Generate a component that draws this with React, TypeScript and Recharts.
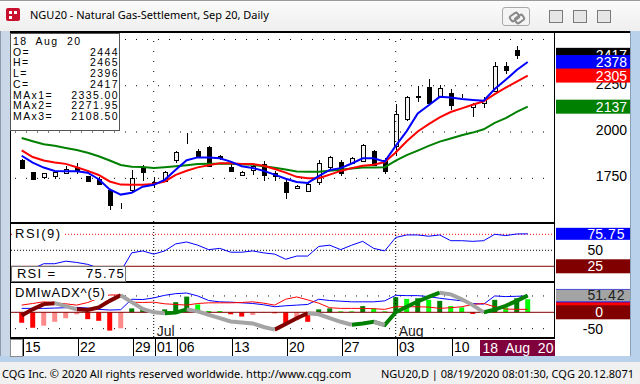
import React from "react";
import { ComposedChart, Line, Bar, XAxis, YAxis, ReferenceLine, Cell } from "recharts";

// trading days shown (last slot is the projected day the studies run into)
const days = [
  "06-15", "06-16", "06-17", "06-18", "06-19",
  "06-22", "06-23", "06-24", "06-25", "06-26",
  "06-29", "06-30", "07-01", "07-02",
  "07-06", "07-07", "07-08", "07-09", "07-10",
  "07-13", "07-14", "07-15", "07-16", "07-17",
  "07-20", "07-21", "07-22", "07-23", "07-24",
  "07-27", "07-28", "07-29", "07-30", "07-31",
  "08-03", "08-04", "08-05", "08-06", "08-07",
  "08-10", "08-11", "08-12", "08-13", "08-14",
  "08-17", "08-18", "08-19",
];

const open = [1847, 1784, 1755, 1761, 1779, 1813, 1762, 1746, 1688, 1602, 1688, 1811, 1722, 1734, 1850, 1935, 1899, 1919, 1868, 1809, 1766, 1793, 1827, 1779, 1730, 1696, 1683, 1732, 1813, 1836, 1834, 1843, 1897, 1849, 1924, 2069, 2192, 2241, 2191, 2211, 2196, 2133, 2158, 2220, 2356, 2444];
const high = [1852, 1786, 1780, 1786, 1815, 1831, 1765, 1759, 1690, 1615, 1793, 1823, 1755, 1791, 1899, 1993, 1910, 1924, 1874, 1845, 1791, 1826, 1845, 1788, 1741, 1712, 1722, 1850, 1870, 1850, 1863, 1935, 1903, 1862, 2151, 2196, 2250, 2288, 2255, 2232, 2205, 2157, 2190, 2380, 2378, 2465];
const low = [1800, 1741, 1745, 1746, 1775, 1773, 1730, 1715, 1580, 1586, 1676, 1737, 1700, 1730, 1831, 1933, 1866, 1809, 1848, 1788, 1761, 1766, 1738, 1734, 1640, 1690, 1680, 1715, 1803, 1760, 1827, 1840, 1816, 1775, 1872, 2058, 2160, 2150, 2183, 2120, 2183, 2080, 2130, 2215, 2313, 2396];
const close = [1806, 1748, 1777, 1782, 1800, 1788, 1734, 1718, 1604, 1598, 1750, 1782, 1728, 1784, 1892, 1938, 1869, 1815, 1860, 1791, 1782, 1815, 1770, 1761, 1676, 1708, 1719, 1831, 1863, 1780, 1858, 1928, 1822, 1791, 2096, 2187, 2188, 2157, 2238, 2147, 2192, 2151, 2171, 2355, 2333, 2417];

const ma1 = [1872, 1835, 1808, 1790, 1788, 1788, 1780, 1745, 1690, 1662, 1672, 1705, 1715, 1742, 1796, 1848, 1863, 1863, 1858, 1840, 1815, 1806, 1790, 1770, 1748, 1730, 1725, 1762, 1795, 1805, 1830, 1858, 1858, 1840, 1925, 2005, 2100, 2145, 2190, 2187, 2178, 2173, 2169, 2232, 2282, 2335, 2378];
const ma2 = [1901, 1865, 1846, 1836, 1828, 1810, 1790, 1768, 1733, 1716, 1715, 1715, 1719, 1733, 1769, 1791, 1809, 1821, 1832, 1832, 1828, 1827, 1818, 1800, 1781, 1758, 1750, 1750, 1770, 1790, 1805, 1818, 1823, 1838, 1890, 1950, 2003, 2043, 2079, 2108, 2128, 2147, 2166, 2205, 2240, 2272, 2305];
const ma3 = [1968, 1950, 1934, 1926, 1914, 1903, 1888, 1869, 1846, 1822, 1812, 1811, 1806, 1810, 1815, 1821, 1827, 1829, 1829, 1829, 1826, 1823, 1815, 1807, 1798, 1787, 1786, 1786, 1791, 1796, 1803, 1809, 1809, 1810, 1845, 1875, 1900, 1925, 1948, 1965, 1983, 1997, 2015, 2050, 2075, 2108.5, 2137];

const rsi = [22, 21, 29, 29, 33, 31, 28, 22, 12, 17, 46, 49, 44, 49, 60, 63, 58, 51, 53, 47, 47, 49, 46, 44, 36, 41, 41, 56, 58, 51, 58, 64, 53, 49, 70, 74, 74, 72, 74, 65, 65, 64, 65, 75, 73, 75.5, 75.75];

const adx = [-10, 9, 25, 28, 19, 9, 7, 15, 35, 52, 31, 10, 0, -3, -1, 9, 3, -8, -18, -28, -31, -34, -45, -53, -36, -18, -3, -6, -18, -29, -38, -34, -29, -39, 0, 17, 33, 47, 60, 55, 40, 22, 0, 8, 20, 35, 51.42];
// trend of each ADX step (slot i -> i+1): m = falling, n = neutral, u = rising
const adxPhase = ["m", "m", "m", "n", "n", "m", "m", "m", "m", "n", "n", "n", "n", "u", "u", "n", "n", "n", "n", "n", "n", "n", "n", "m", "m", "m", "n", "n", "n", "n", "u", "u", "n", "u", "u", "u", "u", "u", "n", "n", "n", "n", "u", "u", "u", "u"];
const diPlus = [12, 12, 12, 13, 14, 15, 13, 9, 7, 8, 40, 39, 44, 52, 57, 59, 50, 36, 32, 31, 29, 27, 23, 17, 20, 22, 24, 40, 36, 34, 32, 32, 32, 35, 52, 51, 51, 48, 43, 39, 35, 27, 25, 50, 48, 49, 50];
const diMinus = [22, 27, 32, 29, 26, 22, 30, 43, 53, 53, 31, 30, 31, 26, 24, 22, 27, 29, 29, 29, 30, 32, 28, 22, 40, 47, 38, 28, 14, 12, 12, 12, 11, 9, 17, 17, 17, 16, 12, 14, 17, 24, 27, 17, 10, 9, 9];
const hist = [-32, -47, -41, -29, -18, -6, -21, -26, -56, -49, 12, 12, 3, 9, 31, 48, 24, 4, 4, -6, -13, -8, -2, -3, -34, -24, -29, 9, 12, 3, 3, 19, 12, 3, 46, 41, 43, 38, 35, 19, 15, -5, 2, 38, 15, 43, 40];
// r = falling below zero, p = rising below zero, G = rising above zero, g = falling above zero
const histTone = ["r", "r", "p", "p", "p", "p", "r", "r", "r", "p", "G", "G", "g", "G", "G", "G", "g", "g", "g", "r", "r", "p", "p", "r", "r", "p", "r", "G", "G", "g", "g", "G", "g", "g", "G", "g", "G", "g", "G", "g", "g", "r", "g", "G", "g", "G", "g"];

const priceTicks = [1750, 2000, 2250];
const priceGrid = [1750, 2000, 2250, 2500];
const monthStarts = [12, 34];
const monthNames = ["Jul", "Aug"];
const dateTicks = [0, 5, 10, 12, 14, 19, 24, 29, 34, 39, 45];
const dateLabels = ["15", "22", "29", "01", "06", "13", "20", "27", "03", "10", "18  Aug  20"];

const FONT = "'Liberation Sans', Arial, sans-serif";
const UI = "'Noto Sans', 'Open Sans', sans-serif";
const X_DOMAIN: [number, number] = [-1.064, 48.48];
const histFill: Record<string, string> = { r: "#ff0000", p: "#ff8a8a", G: "#008000", g: "#00ff00" };
const phaseColor: Record<string, string> = { m: "#800000", n: "#a4a4a4", u: "#008000" };
// where the decimal point of right-margin numbers sits, from the margin's left edge
const POINT_MAIN = 71;
const POINT_STUDY = 47;

const onPhase = (i: number, k: string) => adxPhase[i - 1] === k || adxPhase[i] === k;

const rows = days.map((day, i) => ({
  i,
  day,
  o: open[i] ?? null,
  h: high[i] ?? null,
  l: low[i] ?? null,
  c: close[i] ?? null,
  ma1: ma1[i],
  ma2: ma2[i],
  ma3: ma3[i],
  rsi: rsi[i],
  diPlus: diPlus[i],
  diMinus: diMinus[i],
  hist: hist[i],
  adxM: onPhase(i, "m") ? adx[i] : null,
  adxN: onPhase(i, "n") ? adx[i] : null,
  adxU: onPhase(i, "u") ? adx[i] : null,
}));

function Candle(p: any) {
  const { x, y, width, height, payload } = p;
  if (!payload || payload.o == null) return null;
  const top = Math.min(y, y + height);
  const bot = Math.max(y, y + height);
  const span = payload.h - payload.l || 1;
  const toY = (v: number) => top + ((payload.h - v) / span) * (bot - top);
  const cx = Math.round(x + width / 2);
  const b1 = Math.round(toY(Math.max(payload.o, payload.c)));
  const b2 = Math.round(toY(Math.min(payload.o, payload.c)));
  const up = payload.c > payload.o;
  return (
    <g>
      <line x1={cx + 0.5} x2={cx + 0.5} y1={Math.round(top)} y2={Math.round(bot)} stroke="#000" />
      <rect x={cx - 1.5} y={b1 + 0.5} width={4} height={Math.max(b2 - b1, 0)} fill={up ? "#f4f4f4" : "#000"} stroke="#000" />
    </g>
  );
}

// number split on its decimal point so integers and decimals line up
function Num({ x, y, text, fill }: { x: number; y: number; text: string; fill: string }) {
  const [whole, frac] = text.split(".");
  return (
    <>
      <text x={x} y={y} textAnchor="end" fill={fill} fontSize={14} fontFamily={FONT}>
        {whole}
      </text>
      {frac != null && (
        <text x={x} y={y} fill={fill} fontSize={14} fontFamily={FONT} letterSpacing={1}>
          .{frac}
        </text>
      )}
    </>
  );
}

// value tag in the right margin; text left out when another tag hides it fully
const sideTag = (text: string | null, bg: string, fg: string, h: number, point: number) => (p: any) => {
  const vb = p.viewBox;
  if (!vb) return null;
  const x0 = vb.x + vb.width + 1;
  return (
    <g>
      <rect x={x0} y={vb.y - h / 2} width={74} height={h} fill={bg} />
      {text != null && <Num x={x0 + point} y={vb.y + 5} text={text} fill={fg} />}
    </g>
  );
};

// plain axis number in the right margin, drawn as a label of a gridline
const sideText = (text: string, point: number, dy = 5) => (p: any) => {
  const vb = p.viewBox;
  if (!vb) return null;
  return <Num x={vb.x + vb.width + 1 + point} y={vb.y + dy} text={text} fill="#000" />;
};

const DateTick = (p: any) => {
  const idx = dateTicks.indexOf(p.payload.value);
  const label = dateLabels[idx];
  const x = Math.round(p.x);
  if (p.payload.value === 45) {
    return (
      <g>
        <rect x={x - 37} y={p.y + 3} width={75} height={17} fill="#80003c" />
        <text x={x + 1} y={p.y + 16} textAnchor="middle" fill="#fff" fontSize={14} fontFamily={FONT} style={{ whiteSpace: "pre" }}>
          {label}
        </text>
      </g>
    );
  }
  return (
    <g>
      <line x1={x + 1.5} x2={x + 1.5} y1={p.y + 2} y2={p.y + 19} stroke="#000" />
      <text x={x + 3} y={p.y + 15} fontSize={14} fontFamily={FONT} fill="#000">
        {label}
      </text>
    </g>
  );
};

const monthLabel = (name: string) => (p: any) => {
  const vb = p.viewBox;
  if (!vb) return null;
  return (
    <text x={vb.x + 3} y={vb.y + vb.height - 1} fontSize={14} fontFamily={FONT} fill="#202020">
      {name}
    </text>
  );
};

function Chrome() {
  return (
    <>
      {/* title bar */}
      <div style={{ position: "absolute", left: 0, top: 0, width: 640, height: 31, background: "linear-gradient(#fbfbfb, #eeeeee)", borderTop: "1px solid #9a9a9a" }} />
      <div style={{ position: "absolute", left: 6, top: 8, width: 14, height: 13, background: "#c8102e", borderRadius: 2 }}>
        <div style={{ position: "absolute", left: 3, top: 3, width: 3, height: 3, background: "#fff" }} />
        <div style={{ position: "absolute", left: 8, top: 3, width: 3, height: 3, background: "#fff" }} />
        <div style={{ position: "absolute", left: 3, top: 8, width: 3, height: 3, background: "#fff" }} />
      </div>
      <div style={{ position: "absolute", left: 30, top: 7, fontFamily: UI, fontSize: 11, color: "#000", whiteSpace: "nowrap" }}>
        NGU20 - Natural Gas-Settlement, Sep 20, Daily
      </div>
      <div style={{ position: "absolute", left: 502, top: 7, width: 26, height: 17, border: "1px solid #a8a8a8", borderRadius: 3, background: "#f4f4f4" }}>
        <div style={{ position: "absolute", left: 6, top: 5, width: 7, height: 4, border: "2px solid #8a8a8a", borderRadius: 3, transform: "rotate(-35deg)" }} />
        <div style={{ position: "absolute", left: 11, top: 7, width: 7, height: 4, border: "2px solid #8a8a8a", borderRadius: 3, transform: "rotate(-35deg)" }} />
      </div>
      {[549, 573, 597].map((x) => (
        <div key={x} style={{ position: "absolute", left: x, top: 10, width: 12, height: 11, border: "1px solid #7a7a7a", background: "#e6e6e6" }} />
      ))}
      {/* window frame */}
      <div style={{ position: "absolute", left: 0, top: 31, width: 10, height: 331, background: "#c9d7e6", borderLeft: "1px solid #8a9aaa" }} />
      <div style={{ position: "absolute", left: 630, top: 31, width: 10, height: 331, background: "#b9d1ea", borderLeft: "1px solid #8aa0b8" }} />
      <div style={{ position: "absolute", left: 0, top: 356, width: 640, height: 6, background: "#b9d1ea" }} />
      <div style={{ position: "absolute", left: 10, top: 31, width: 620, height: 325, background: "#fff" }} />
      {/* status bar */}
      <div style={{ position: "absolute", left: 0, top: 362, width: 640, height: 22, background: "#f0f0f0" }} />
      <div style={{ position: "absolute", left: 2, top: 366, fontFamily: UI, fontSize: 11, color: "#000", whiteSpace: "nowrap" }}>
        CQG Inc. © 2020 All rights reserved worldwide. http://www.cqg.com
      </div>
      <div style={{ position: "absolute", right: 6, top: 366, fontFamily: UI, fontSize: 11, color: "#000", whiteSpace: "nowrap" }}>
        NGU20,D | 08/19/2020 08:01:30, CQG 20.12.8071
      </div>
    </>
  );
}

function Borders() {
  const line = (l: number, t: number, w: number, h: number) => (
    <div style={{ position: "absolute", left: l, top: t, width: w, height: h, background: "#000" }} />
  );
  return (
    <>
      {line(10, 31, 620, 2)}
      {line(10, 222, 545, 2)}
      {line(10, 281, 545, 2)}
      {line(10, 337, 545, 2)}
      {line(10, 31, 1, 325)}
      {line(554, 31, 1, 308)}
      <div style={{ position: "absolute", left: 10, top: 339, width: 11, height: 16, background: "#fff", border: "1px solid #8c8c8c" }} />
    </>
  );
}

function InfoBox() {
  const items: [string, string][] = [
    ["O=", String(open[45])],
    ["H=", String(high[45])],
    ["L=", String(low[45])],
    ["C=", String(close[45])],
    ["MAx1=", "2335.00"],
    ["MAx2=", "2271.95"],
    ["MAx3=", "2108.50"],
  ];
  const txt = { fontFamily: FONT, fontSize: 10.5, letterSpacing: 1.4, color: "#000", lineHeight: "10.7px" } as const;
  return (
    <div style={{ position: "absolute", left: 10, top: 33, width: 106, height: 94, background: "#fff", border: "1px solid #555", padding: "2px 0 0 2px", ...txt }}>
      <div>18&nbsp; Aug&nbsp; 20</div>
      {items.map(([k, v]) => (
        <div key={k} style={{ display: "flex", justifyContent: "space-between", paddingRight: 0 }}>
          <span>{k}</span>
          <span>{v}</span>
        </div>
      ))}
    </div>
  );
}

export default function App() {
  return (
    <div style={{ position: "fixed", left: 0, top: 0, width: 640, height: 384, overflow: "hidden", background: "#f0f0f0" }}>
      <Chrome />

      {/* price panel */}
      <div style={{ position: "absolute", left: 0, top: 33, width: 630, height: 189 }}>
        <ComposedChart width={630} height={189} data={rows} margin={{ top: 0, right: 0, bottom: 0, left: 10 }}>
          <XAxis type="number" dataKey="i" domain={X_DOMAIN} allowDataOverflow hide />
          <YAxis orientation="right" width={75} domain={[1514, 2535]} allowDataOverflow tick={false} axisLine={false} tickLine={false} />
          {priceGrid.map((v) => (
            <ReferenceLine key={v} y={v} stroke="#000" strokeDasharray="1 10" label={priceTicks.includes(v) ? sideText(String(v), POINT_MAIN, 3) : undefined} />
          ))}
          {monthStarts.map((m) => (
            <ReferenceLine key={m} x={m} stroke="#000" strokeDasharray="1 9" />
          ))}
          <Line dataKey="ma3" stroke="#008000" strokeWidth={2} dot={false} isAnimationActive={false} />
          <Line dataKey="ma2" stroke="#ff0000" strokeWidth={2} dot={false} isAnimationActive={false} />
          <Line dataKey="ma1" stroke="#0000ff" strokeWidth={2} dot={false} isAnimationActive={false} />
          <Bar dataKey={(d: any) => (d.h == null ? null : [d.l, d.h])} barSize={6} shape={(p: any) => <Candle {...p} />} isAnimationActive={false} />
          <ReferenceLine y={close[45]} stroke="none" label={sideTag(String(close[45]), "#000", "#fff", 14, POINT_MAIN)} />
          <ReferenceLine y={ma1[46]} stroke="none" label={sideTag(String(ma1[46]), "#0000ff", "#fff", 14, POINT_MAIN)} />
          <ReferenceLine y={ma2[46]} stroke="none" label={sideTag(String(ma2[46]), "#ff0000", "#fff", 14, POINT_MAIN)} />
          <ReferenceLine y={ma3[46]} stroke="none" label={sideTag(String(ma3[46]), "#008000", "#fff", 14, POINT_MAIN)} />
        </ComposedChart>
      </div>

      {/* RSI panel */}
      <div style={{ position: "absolute", left: 0, top: 224, width: 630, height: 57 }}>
        <ComposedChart width={630} height={57} data={rows} margin={{ top: 0, right: 0, bottom: 0, left: 10 }}>
          <XAxis type="number" dataKey="i" domain={X_DOMAIN} allowDataOverflow hide />
          <YAxis orientation="right" width={75} domain={[2, 91.1]} allowDataOverflow tick={false} axisLine={false} tickLine={false} />
          <ReferenceLine y={75} stroke="#ff0000" strokeDasharray="1 2" />
          <ReferenceLine y={50} stroke="#000" strokeDasharray="1 2" label={sideText("50", POINT_STUDY)} />
          <ReferenceLine y={25} stroke="#800000" />
          {monthStarts.map((m) => (
            <ReferenceLine key={m} x={m} stroke="#000" strokeDasharray="1 2" />
          ))}
          <Line dataKey="rsi" stroke="#0000ff" strokeWidth={1} dot={false} isAnimationActive={false} />
          <ReferenceLine y={rsi[46]} stroke="none" label={sideTag(rsi[46].toFixed(2), "#0000ff", "#fff", 12, POINT_STUDY)} />
          <ReferenceLine y={25} stroke="none" label={sideTag("25", "#800000", "#fff", 14, POINT_STUDY)} />
        </ComposedChart>
      </div>

      {/* DMI panel + date axis */}
      <div style={{ position: "absolute", left: 0, top: 283, width: 630, height: 73 }}>
        <ComposedChart width={630} height={73} data={rows} margin={{ top: 0, right: 0, bottom: 0, left: 10 }}>
          <XAxis type="number" dataKey="i" domain={X_DOMAIN} allowDataOverflow ticks={dateTicks} interval={0} height={19} axisLine={false} tickLine={false} tickSize={0} tickMargin={0} tick={(p: any) => <DateTick {...p} />} />
          <YAxis orientation="right" width={75} domain={[-75.5, 89.6]} allowDataOverflow tick={false} axisLine={false} tickLine={false} />
          <ReferenceLine y={50} stroke="#000" strokeDasharray="1 10" />
          <ReferenceLine y={-50} stroke="#000" strokeDasharray="1 10" label={sideText("-50", POINT_STUDY)} />
          {monthStarts.map((m, k) => (
            <ReferenceLine key={m} x={m} stroke="#000" strokeDasharray="1 2" label={monthLabel(monthNames[k])} />
          ))}
          <Bar dataKey="hist" barSize={5} isAnimationActive={false}>
            {rows.map((r, i) => (
              <Cell key={r.day} fill={histFill[histTone[i]]} />
            ))}
          </Bar>
          <ReferenceLine y={0} stroke="#800000" />
          <Line dataKey="diPlus" stroke="#0000ff" strokeWidth={1} dot={false} isAnimationActive={false} />
          <Line dataKey="diMinus" stroke="#ff0000" strokeWidth={1} dot={false} isAnimationActive={false} />
          <Line dataKey="adxU" stroke={phaseColor.u} strokeWidth={4} dot={false} isAnimationActive={false} />
          <Line dataKey="adxM" stroke={phaseColor.m} strokeWidth={4} dot={false} isAnimationActive={false} />
          <Line dataKey="adxN" stroke={phaseColor.n} strokeWidth={4} dot={false} isAnimationActive={false} />
          <ReferenceLine y={diPlus[46]} stroke="none" label={sideTag(null, "#0000ff", "#fff", 14, POINT_STUDY)} />
          <ReferenceLine y={diMinus[46]} stroke="none" label={sideTag(null, "#ff0000", "#fff", 14, POINT_STUDY)} />
          <ReferenceLine y={adx[46]} stroke="none" label={sideTag(adx[46].toFixed(2), "#a4a4a4", "#202020", 12, POINT_STUDY)} />
          <ReferenceLine y={0} stroke="none" label={sideTag("0", "#800000", "#fff", 14, POINT_STUDY)} />
        </ComposedChart>
      </div>

      <Borders />
      <InfoBox />

      {/* study captions */}
      <div style={{ position: "absolute", left: 13, top: 226, padding: "0 2px", background: "#fff", fontFamily: FONT, fontSize: 13, letterSpacing: 1.5, color: "#000" }}>RSI(9)</div>
      <div style={{ position: "absolute", left: 11, top: 266, width: 113, height: 14, background: "#fff", border: "1px solid #777", fontFamily: FONT, fontSize: 13, letterSpacing: 1.3, color: "#000", display: "flex", justifyContent: "space-between", lineHeight: "14px" }}>
        <span>&nbsp;RSI =</span>
        <span>{rsi[46].toFixed(2)}</span>
      </div>
      <div style={{ position: "absolute", left: 13, top: 285, padding: "0 2px", background: "#fff", fontFamily: FONT, fontSize: 13, letterSpacing: 0.8, color: "#000" }}>DMIwADX^(5)</div>
    </div>
  );
}
